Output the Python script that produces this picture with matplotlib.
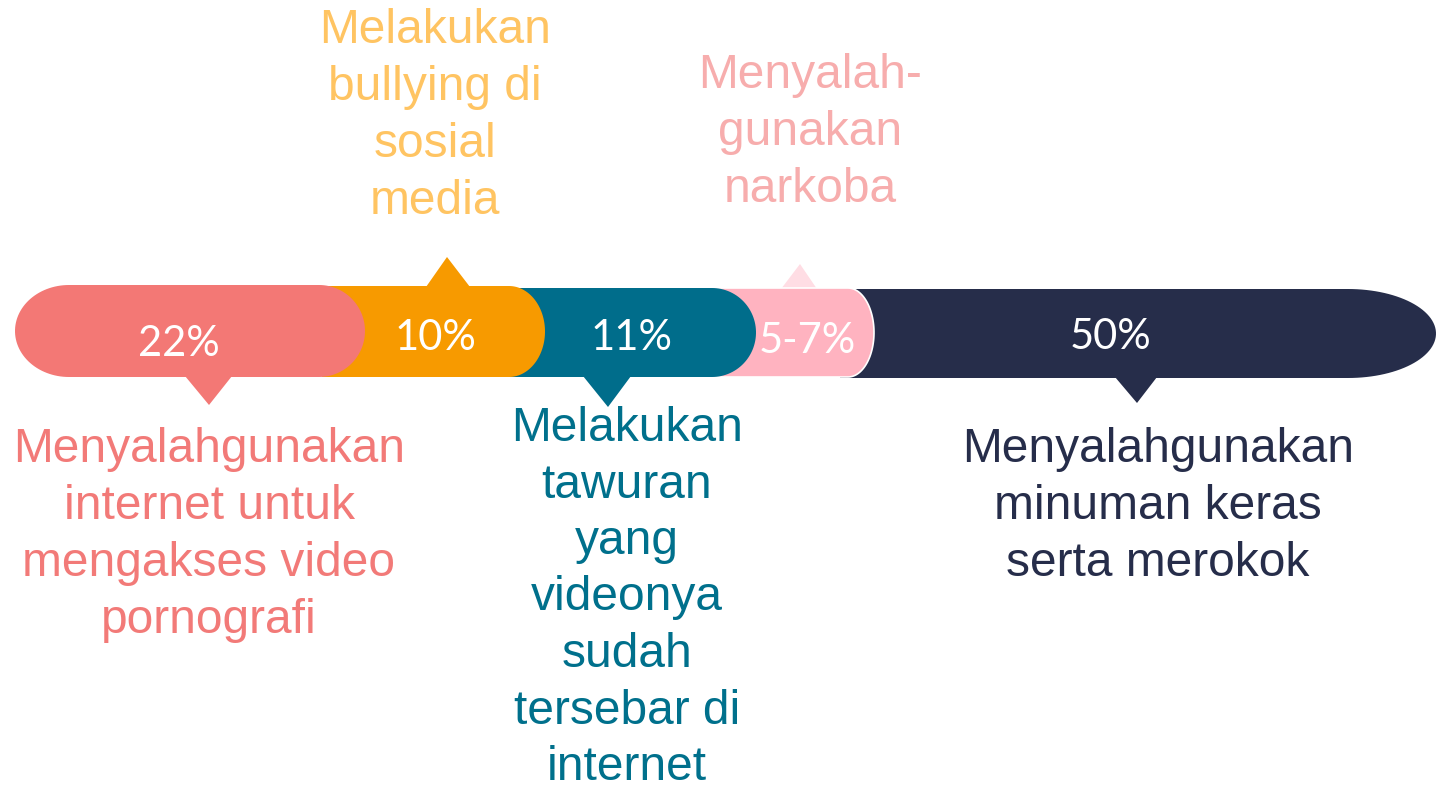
#!/usr/bin/env python3
"""Infographic: pill-shaped timeline of youth problem shares."""

import numpy as np
import matplotlib.pyplot as plt
from matplotlib.patches import Polygon

W, H, DPI = 1436, 791, 100

# data
percent_labels = ["22%", "10%", "11%", "5-7%", "50%"]
captions = [
    ["Menyalahgunakan", "internet untuk", "mengakses video", "pornografi"],
    ["Melakukan", "bullying di", "sosial", "media"],
    ["Melakukan", "tawuran", "yang", "videonya", "sudah", "tersebar di", "internet"],
    ["Menyalah-", "gunakan", "narkoba"],
    ["Menyalahgunakan", "minuman keras", "serta merokok"],
]
bar_colors = ["#F37875", "#F79A00", "#006D8B", "#FFB3C0", "#262D4A"]
pointer_colors = ["#F37875", "#F79A00", "#006D8B", "#FFDDE4", "#262D4A"]
text_colors = ["#F27A78", "#FFC462", "#00708C", "#F7ADAD", "#262D4A"]

# layout (pixels, y downward)
segs = [  # x0, x1, y0, y1, rx_left, rx_right
    (15, 365, 285, 377, 54, 46),
    (322, 545, 286, 377, 0, 36),
    (456, 756, 288, 377, 0, 44),
    (700, 874, 288, 377, 0, 26),
    (840, 1436, 289, 378, 0, 88),
]
pointers = [  # base left, base right, base y, tip x, tip y
    (185, 232, 376, 209, 405),
    (426, 470, 287, 447, 257),
    (583, 631, 376, 608, 407),
    (781, 817, 289, 800, 264),
    (1115, 1157, 377, 1137, 403),
]
pct_pos = [(179, 356), (435, 350), (632, 350), (807, 353), (1111, 349)]
cap_x = [209, 435, 627, 810, 1158]
cap_first_baseline = [462, 43, 441, 88, 462]
line_step = [57, 57, 56.5, 57, 57]


def pill(x0, x1, y0, y1, rxl, rxr):
    yc, ry = (y0 + y1) / 2, (y1 - y0) / 2
    pts = []
    t = np.linspace(-np.pi / 2, np.pi / 2, 60)
    if rxr > 0:
        pts += list(zip(x1 - rxr + rxr * np.cos(t), yc + ry * np.sin(t)))
    else:
        pts += [(x1, y0), (x1, y1)]
    t = np.linspace(np.pi / 2, 3 * np.pi / 2, 60)
    if rxl > 0:
        pts += list(zip(x0 + rxl + rxl * np.cos(t), yc + ry * np.sin(t)))
    else:
        pts += [(x0, y1), (x0, y0)]
    return pts


fig = plt.figure(figsize=(W / DPI, H / DPI), dpi=DPI)
ax = fig.add_axes([0, 0, 1, 1])
ax.set_xlim(0, W)
ax.set_ylim(H, 0)
ax.axis("off")

# draw right to left so each cap overlaps its right neighbour
for i in reversed(range(len(segs))):
    x0, x1, y0, y1, rxl, rxr = segs[i]
    bl, br, by, tx, ty = pointers[i]
    ax.add_patch(Polygon([(bl, by), (br, by), (tx, ty)], closed=True,
                         facecolor=pointer_colors[i], edgecolor="none", zorder=2 * (5 - i)))
    edge = "white" if i == 3 else "none"
    ax.add_patch(Polygon(pill(x0, x1, y0, y1, rxl, rxr), closed=True,
                         facecolor=bar_colors[i], edgecolor=edge, linewidth=1.2,
                         zorder=2 * (5 - i) + 1))

for i, label in enumerate(percent_labels):
    px, py = pct_pos[i]
    ax.text(px, py, label, ha="center", va="baseline", color="white",
            fontsize=30, family="Lato", zorder=20)

for i, lines in enumerate(captions):
    for k, line in enumerate(lines):
        ax.text(cap_x[i], cap_first_baseline[i] + k * line_step[i], line,
                ha="center", va="baseline", color=text_colors[i],
                fontsize=34.5, family="Liberation Sans", zorder=20)

fig.savefig("out.png", dpi=DPI)
